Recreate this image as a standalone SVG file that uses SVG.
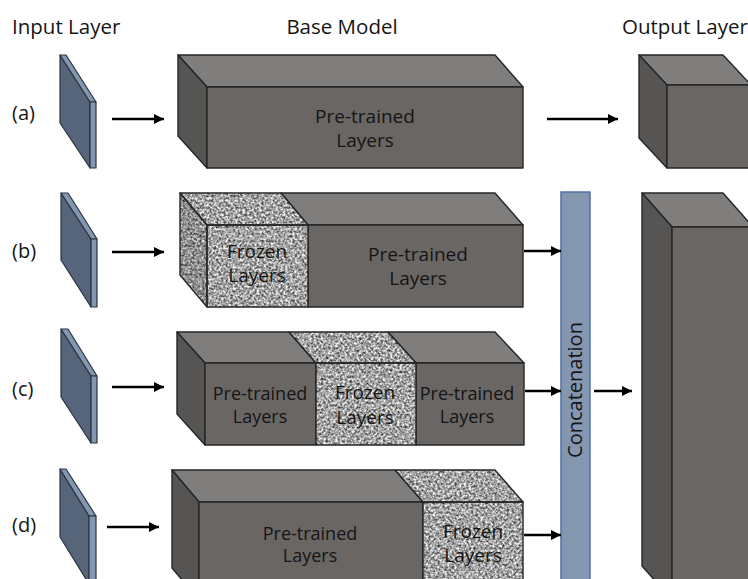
<svg xmlns="http://www.w3.org/2000/svg" width="748" height="579" viewBox="0 0 748 579">
  <style>
    text { font-family: "Open Sans", "Noto Sans", "DejaVu Sans", sans-serif; fill: #151515; }
    .head { font-size: 20.5px; }
    .tag { font-size: 20px; }
    .lbl { font-size: 19px; text-anchor: middle; }
    .lbl-s { font-size: 18px; text-anchor: middle; }
    .front { fill: #6a6664; stroke: #262626; stroke-width: 1.4; stroke-linejoin: round; }
    .top { fill: #807e7c; stroke: #262626; stroke-width: 1.4; stroke-linejoin: round; }
    .side { fill: #575553; stroke: #262626; stroke-width: 1.4; stroke-linejoin: round; }
    .frozen { fill: #000; filter: url(#granite); }
    .edge { fill: none; stroke: #262626; stroke-width: 1.4; stroke-linejoin: round; }
    .shade { fill: #000; opacity: 0.12; }
    .plate { fill: #566579; stroke: #2a3442; stroke-width: 1.2; stroke-linejoin: round; }
    .plate-rim { fill: #8497b0; stroke: #2a3442; stroke-width: 1.2; stroke-linejoin: round; }
    .bar { fill: #8597b0; stroke: #4f72a6; stroke-width: 1.5; }
    .conn { stroke: #000; stroke-width: 2.4; fill: none; marker-end: url(#head); }
  </style>
  <defs>
    <marker id="head" viewBox="0 0 10 10" refX="10" refY="5" markerWidth="4.2" markerHeight="4.2" markerUnits="strokeWidth" orient="auto">
      <path d="M0,0 L10,5 L0,10 z" fill="#000"/>
    </marker>
    <!-- soft speckled granite fill for the frozen blocks -->
    <filter id="granite" x="0" y="0" width="100%" height="100%" color-interpolation-filters="sRGB">
      <feTurbulence type="fractalNoise" baseFrequency="0.42" numOctaves="2" seed="7" result="noise"/>
      <feColorMatrix in="noise" type="matrix" values="1.3 0 0 0 -0.01  1.3 0 0 0 -0.01  1.3 0 0 0 -0.01  0 0 0 0 1" result="gray"/>
      <feGaussianBlur in="gray" stdDeviation="0.45" result="soft"/>
      <feComposite in="soft" in2="SourceAlpha" operator="in"/>
    </filter>
  </defs>

  <rect width="748" height="579" fill="#fff"/>

  <!-- column headings -->
  <text class="head" x="12" y="34">Input Layer</text>
  <text class="head" x="342" y="34" text-anchor="middle">Base Model</text>
  <text class="head" x="622" y="34">Output Layer</text>

  <!-- row tags -->
  <text class="tag" x="12" y="120">(a)</text>
  <text class="tag" x="12" y="258">(b)</text>
  <text class="tag" x="12" y="396">(c)</text>
  <text class="tag" x="12" y="532">(d)</text>

  <!-- input plates -->
  <g id="input-a">
    <polygon class="plate" points="60,55 90,102 90,168 60,123"/>
    <polygon class="plate-rim" points="60,55 66,55 96,102 90,102"/>
    <rect class="plate-rim" x="90" y="102" width="6" height="66"/>
  </g>
  <g id="input-b">
    <polygon class="plate" points="61,193 91,239 91,307 61,260"/>
    <polygon class="plate-rim" points="61,193 68,193 97,239 91,239"/>
    <rect class="plate-rim" x="91" y="239" width="6" height="68"/>
  </g>
  <g id="input-c">
    <polygon class="plate" points="61,329 91,376 91,443 61,397"/>
    <polygon class="plate-rim" points="61,329 68,329 97,376 91,376"/>
    <rect class="plate-rim" x="91" y="376" width="6" height="67"/>
  </g>
  <g id="input-d">
    <polygon class="plate" points="60,469 89,516 89,584 60,537"/>
    <polygon class="plate-rim" points="60,469 66,469 96,516 89,516"/>
    <rect class="plate-rim" x="89" y="516" width="7" height="68"/>
  </g>

  <!-- base model (a): one pre-trained block -->
  <g id="base-a">
    <polygon class="top" points="178,55 495,55 523,87 207,87"/>
    <polygon class="side" points="178,55 207,87 207,168 178,136"/>
    <rect class="front" x="207" y="87" width="316" height="81"/>
    <text class="lbl" x="365" y="123">Pre-trained</text>
    <text class="lbl" x="365" y="147">Layers</text>
  </g>

  <!-- base model (b): frozen head, pre-trained tail -->
  <g id="base-b">
    <polygon class="top" points="281,193 495,193 523,225 308,225"/>
    <rect class="front" x="308" y="225" width="215" height="82"/>
    <polygon class="frozen" points="180,193 281,193 308,225 207,225"/>
    <polygon class="frozen" points="180,193 207,225 207,307 180,275"/>
    <rect class="frozen" x="207" y="225" width="101" height="82"/>
    <polygon class="shade" points="180,193 207,225 207,307 180,275"/>
    <polygon class="edge" points="180,193 281,193 308,225 207,225"/>
    <polygon class="edge" points="180,193 207,225 207,307 180,275"/>
    <rect class="edge" x="207" y="225" width="101" height="82"/>
    <text class="lbl" x="257" y="258">Frozen</text>
    <text class="lbl" x="257" y="282">Layers</text>
    <text class="lbl" x="418" y="261">Pre-trained</text>
    <text class="lbl" x="418" y="285">Layers</text>
  </g>

  <!-- base model (c): frozen middle -->
  <g id="base-c">
    <polygon class="top" points="177,332 289,332 316,363 205,363"/>
    <polygon class="top" points="388,332 495,332 524,363 416,363"/>
    <polygon class="side" points="177,332 205,363 205,445 177,414"/>
    <rect class="front" x="205" y="363" width="111" height="82"/>
    <rect class="front" x="416" y="363" width="108" height="82"/>
    <polygon class="frozen" points="289,332 388,332 416,363 316,363"/>
    <rect class="frozen" x="316" y="363" width="100" height="82"/>
    <polygon class="edge" points="289,332 388,332 416,363 316,363"/>
    <rect class="edge" x="316" y="363" width="100" height="82"/>
    <text class="lbl-s" x="260" y="400">Pre-trained</text>
    <text class="lbl-s" x="260" y="423">Layers</text>
    <text class="lbl" x="365" y="399">Frozen</text>
    <text class="lbl" x="365" y="424">Layers</text>
    <text class="lbl-s" x="467" y="400">Pre-trained</text>
    <text class="lbl-s" x="467" y="423">Layers</text>
  </g>

  <!-- base model (d): frozen tail -->
  <g id="base-d">
    <polygon class="top" points="172,470 395,470 423,502 199,502"/>
    <polygon class="side" points="172,470 199,502 199,600 172,568"/>
    <rect class="front" x="199" y="502" width="224" height="98"/>
    <polygon class="frozen" points="395,470 495,470 523,502 423,502"/>
    <rect class="frozen" x="423" y="502" width="100" height="98"/>
    <polygon class="edge" points="395,470 495,470 523,502 423,502"/>
    <rect class="edge" x="423" y="502" width="100" height="98"/>
    <text class="lbl-s" x="310" y="540">Pre-trained</text>
    <text class="lbl-s" x="310" y="562">Layers</text>
    <text class="lbl" x="473" y="538">Frozen</text>
    <text class="lbl" x="473" y="562">Layers</text>
  </g>

  <!-- concatenation bar -->
  <g id="concat">
    <rect class="bar" x="561" y="192" width="29" height="400"/>
    <text x="582" y="390" font-size="20" text-anchor="middle" transform="rotate(-90 582 390)">Concatenation</text>
  </g>

  <!-- output layers -->
  <g id="output-a">
    <polygon class="top" points="639,55 723,55 751,85 667,85"/>
    <polygon class="side" points="639,55 667,85 667,168 639,138"/>
    <rect class="front" x="667" y="85" width="90" height="83"/>
  </g>
  <g id="output-b">
    <polygon class="top" points="642,193 723,193 753,227 672,227"/>
    <polygon class="side" points="642,193 672,227 672,600 642,566"/>
    <rect class="front" x="672" y="227" width="90" height="373"/>
  </g>

  <!-- connectors -->
  <g id="connectors">
    <line class="conn" x1="112" y1="119" x2="164" y2="119"/>
    <line class="conn" x1="112" y1="252" x2="164" y2="252"/>
    <line class="conn" x1="112" y1="387" x2="164" y2="387"/>
    <line class="conn" x1="107" y1="527" x2="159" y2="527"/>
    <line class="conn" x1="547" y1="119" x2="618" y2="119"/>
    <line class="conn" x1="524" y1="251" x2="561" y2="251"/>
    <line class="conn" x1="525" y1="391" x2="561" y2="391"/>
    <line class="conn" x1="524" y1="535" x2="561" y2="535"/>
    <line class="conn" x1="594" y1="391" x2="632" y2="391"/>
  </g>
</svg>
